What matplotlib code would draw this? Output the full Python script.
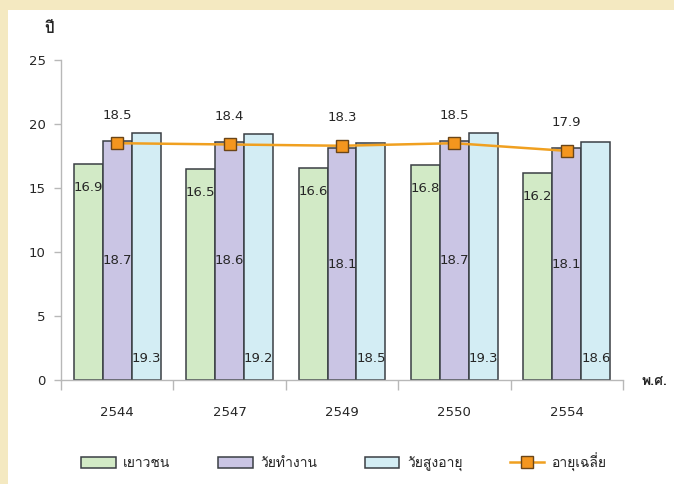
import matplotlib
matplotlib.use('Agg')
import matplotlib.pyplot as plt
from matplotlib import font_manager
from matplotlib.ft2font import FT2Font
from matplotlib.patches import Rectangle, Patch
from matplotlib.lines import Line2D
import numpy as np

# ---------------- data ----------------
years = ['2544', '2547', '2549', '2550', '2554']
youth = [16.9, 16.5, 16.6, 16.8, 16.2]
working = [18.7, 18.6, 18.1, 18.7, 18.1]
elderly = [19.3, 19.2, 18.5, 19.3, 18.6]
average = [18.5, 18.4, 18.3, 18.5, 17.9]
series_names = ['เยาวชน', 'วัยทำงาน', 'วัยสูงอายุ', 'อายุเฉลี่ย']
y_ticks = [0, 5, 10, 15, 20, 25]
y_label = 'ปี'
x_label = 'พ.ศ.'

# ---------------- fonts ----------------
def find_thai_font():
    needed = 'ปีพศเยาวชนัทำงสูอุฉลี่'
    found = []
    for f in font_manager.fontManager.ttflist:
        try:
            ft = FT2Font(f.fname)
            cmap = ft.get_charmap()
            if all(ord(c) in cmap for c in needed):
                found.append(f)
        except Exception:
            pass
    if not found:
        return None
    found.sort(key=lambda f: (f.style != 'normal', abs(int(f.weight) - 400) if str(f.weight).isdigit() else 0))
    return found[0].name

thai = find_thai_font()
latin_fam = ['DejaVu Sans']
thai_fam = ([thai] if thai else []) + ['DejaVu Sans']
plt.rcParams['font.family'] = latin_fam + ([thai] if thai else [])

# ---------------- colours ----------------
c_youth = '#d2eac6'
c_work = '#cac5e4'
c_old = '#d3edf4'
c_edge = '#3a3f44'
c_line = '#f0a020'
c_mark = '#f4961e'
c_mark_edge = '#6a4518'
c_axis = '#b8b8b8'
c_text = '#262626'

fig = plt.figure(figsize=(6.74, 4.84), dpi=100, facecolor='white')
# pale yellow frame at top and left
fig.patches.append(Rectangle((0, 1 - 10 / 484), 1, 10 / 484, transform=fig.transFigure,
                             facecolor='#f4e9c1', edgecolor='none', zorder=0))
fig.patches.append(Rectangle((0, 0), 8 / 674, 1, transform=fig.transFigure,
                             facecolor='#f4e9c1', edgecolor='none', zorder=0))

ax = fig.add_axes([61 / 674, 1 - 380 / 484, (623 - 61) / 674, 320 / 484])
ax.set_facecolor('none')

x = np.arange(len(years))
w = 0.258
ax.bar(x - w, youth, w, color=c_youth, edgecolor=c_edge, linewidth=1.1, zorder=2)
ax.bar(x, working, w, color=c_work, edgecolor=c_edge, linewidth=1.1, zorder=2)
ax.bar(x + w, elderly, w, color=c_old, edgecolor=c_edge, linewidth=1.1, zorder=2)
ax.plot(x, average, color=c_line, linewidth=1.8, marker='s', markersize=8.5,
        markerfacecolor=c_mark, markeredgecolor=c_mark_edge, markeredgewidth=1.0, zorder=4)

lbl_kw = dict(textcoords='offset pixels', ha='center', va='center', fontsize=9.5,
              color=c_text, zorder=5)
for i in range(len(years)):
    ax.annotate(f'{youth[i]:.1f}', xy=(x[i] - w, youth[i]), xytext=(0, -24), **lbl_kw)
    ax.annotate(f'{working[i]:.1f}', xy=(x[i], working[i] / 2), xytext=(0, 0), **lbl_kw)
    ax.annotate(f'{elderly[i]:.1f}', xy=(x[i] + w, 0), xytext=(0, 22), **lbl_kw)
    ax.annotate(f'{average[i]:.1f}', xy=(x[i], average[i]), xytext=(0, 28), **lbl_kw)

ax.set_xlim(-0.5, len(years) - 0.5)
ax.set_ylim(0, 25)
ax.set_yticks(y_ticks)
ax.set_yticklabels([str(t) for t in y_ticks], fontsize=9.5, color=c_text)
ax.set_xticks(x)
ax.set_xticklabels(years, fontsize=9.5, color=c_text)
ax.set_xticks(np.arange(-0.5, len(years), 1), minor=True)
ax.tick_params(axis='x', which='major', length=0, pad=19)
ax.tick_params(axis='x', which='minor', length=7, color=c_axis, width=1)
ax.tick_params(axis='y', length=5, color=c_axis, width=1, pad=6)
for s in ['top', 'right']:
    ax.spines[s].set_visible(False)
for s in ['left', 'bottom']:
    ax.spines[s].set_color(c_axis)
    ax.spines[s].set_linewidth(1)

fig.text(49 / 674, 1 - 29 / 484, y_label, fontsize=11, fontweight='bold', color=c_text,
         ha='center', va='center', family=thai_fam)
fig.text(654 / 674, 1 - 382 / 484, x_label, fontsize=10, fontweight='bold', color=c_text,
         ha='center', va='center', family=thai_fam)

handles = [Patch(facecolor=c_youth, edgecolor=c_edge, linewidth=1.1),
           Patch(facecolor=c_work, edgecolor=c_edge, linewidth=1.1),
           Patch(facecolor=c_old, edgecolor=c_edge, linewidth=1.1),
           Line2D([], [], color=c_line, linewidth=1.8, marker='s', markersize=8.5,
                  markerfacecolor=c_mark, markeredgecolor=c_mark_edge)]
leg = fig.legend(handles, series_names, loc='center', bbox_to_anchor=(344 / 674, 1 - 462 / 484),
                 ncol=4, frameon=False, handlelength=2.5, handleheight=0.8, handletextpad=0.55,
                 columnspacing=3.4, prop={'family': thai_fam, 'size': 10})
for t in leg.get_texts():
    t.set_color(c_text)

fig.savefig('out.png', dpi=100, facecolor='white')
